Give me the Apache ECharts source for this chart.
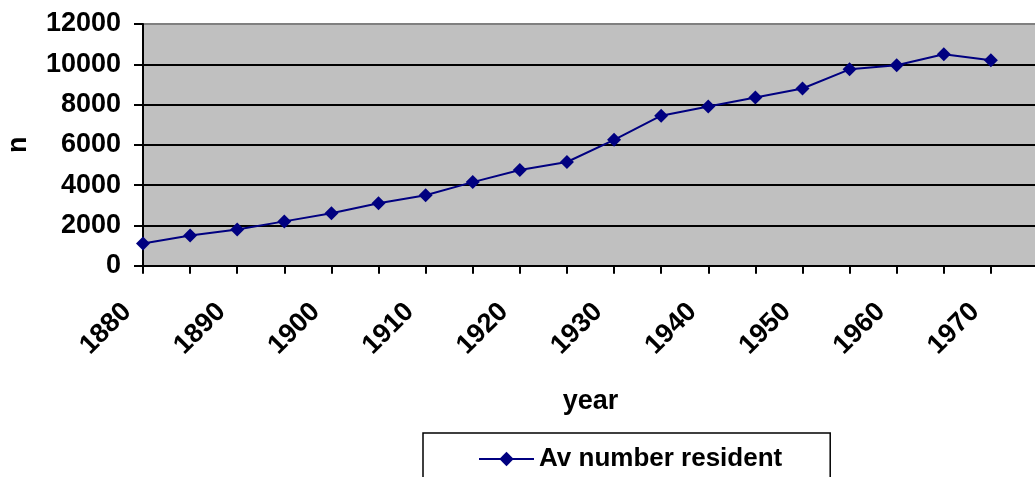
<!DOCTYPE html>
<html>
<head>
<meta charset="utf-8">
<script src="https://cdn.jsdelivr.net/npm/echarts@6/dist/echarts.min.js"></script>
<style>
html,body{margin:0;padding:0;background:#fff;}
#c{width:1035px;height:477px;}
</style>
</head>
<body>
<div id="c"></div>
<script>
// categories (5-year steps; 1975 is an empty slot so the plot runs past the edge as in the original)
var years = ['1880','1885','1890','1895','1900','1905','1910','1915','1920','1925','1930','1935','1940','1945','1950','1955','1960','1965','1970','1975'];
var avResident = [1100,1500,1800,2200,2600,3100,3500,4150,4750,5150,6250,7450,7900,8350,8800,9750,9950,10500,10200];
var seriesName = 'Av number resident';
var xTitle = 'year';
var yTitle = 'n';

var FONT = '"Liberation Sans", Arial, sans-serif';
var chart = echarts.init(document.getElementById('c'), null, {renderer:'canvas'});
chart.setOption({
  animation:false,
  backgroundColor:'#ffffff',
  grid:{left:143, top:24, width:895, height:241.7, show:true, backgroundColor:'#c0c0c0', borderColor:'#808080', borderWidth:1.5, containLabel:false, outerBoundsMode:'none'},
  legend:{
    data:[seriesName], left:423, top:433,
    itemWidth:55, itemHeight:18,
    padding:[13,48,10,55],
    borderColor:'#000', borderWidth:1.5,
    textStyle:{fontFamily:FONT, fontWeight:'bold', fontSize:26, color:'#000'}
  },
  xAxis:{
    type:'category', data:years, boundaryGap:false,
    name:xTitle, nameLocation:'middle', nameGap:122,
    nameTextStyle:{fontFamily:FONT, fontWeight:'bold', fontSize:27, color:'#000'},
    axisLine:{show:true, onZero:false, lineStyle:{color:'#000', width:2}},
    axisTick:{show:true, interval:0, length:8, lineStyle:{color:'#000', width:2}},
    axisLabel:{interval:1, rotate:45, margin:26,
      formatter:function(v){ return v + '   '; },
      fontFamily:FONT, fontWeight:'bold', fontSize:27, color:'#000'},
    splitLine:{show:false}
  },
  yAxis:{
    type:'value', min:0, max:12000, interval:2000,
    name:yTitle, nameLocation:'middle', nameGap:111, nameRotate:90,
    nameTextStyle:{fontFamily:FONT, fontWeight:'bold', fontSize:27, color:'#000'},
    axisLine:{show:true, lineStyle:{color:'#000', width:2}},
    axisTick:{show:true, length:9, lineStyle:{color:'#000', width:2}},
    axisLabel:{margin:22, formatter:function(v){ return String(v); },
      fontFamily:FONT, fontWeight:'bold', fontSize:27, color:'#000'},
    splitLine:{show:true, lineStyle:{color:['#000','#000','#000','#000','#000','#000','#808080'], width:1.8}}
  },
  series:[{
    name:seriesName, type:'line', data:avResident,
    symbol:'diamond', symbolSize:14, showAllSymbol:true,
    lineStyle:{color:'#000080', width:2},
    itemStyle:{color:'#000080'}
  }]
});
</script>
</body>
</html>
